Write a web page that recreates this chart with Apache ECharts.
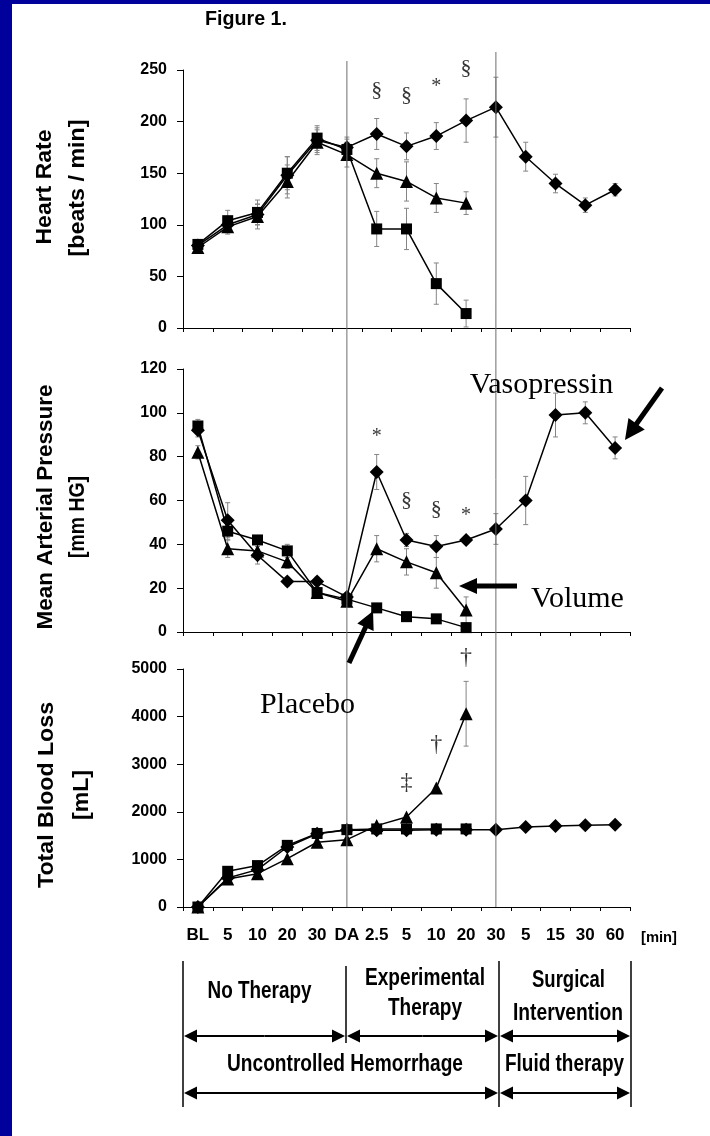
<!DOCTYPE html>
<html>
<head>
<meta charset="utf-8">
<title>Figure 1</title>
<script src="https://cdn.jsdelivr.net/npm/echarts@6.0.0/dist/echarts.min.js"></script>
<style>
  html, body { margin: 0; padding: 0; background: #fff; }
  #chart { width: 710px; height: 1136px; }
</style>
</head>
<body>
<div id="chart"></div>
<script>
// time points, shared by the three panels
const categories = ['BL', '5', '10', '20', '30', 'DA', '2.5', '5', '10', '20', '30', '5', '15', '30', '60'];

// heart rate [beats / min]
const hrVasopressin = [80, 100, 110, 148, 182, 175, 188, 176, 186, 201, 214, 166, 140, 119, 134];
const hrVasopressinSd = [4, 7, 10, 18, 12, 10, 15, 13, 13, 21, 29, 14, 9, 7, 6];
const hrVolume = [78, 98, 108, 142, 180, 168, 150, 142, 126, 121];
const hrVolumeSd = [4, 7, 12, 16, 12, 12, 14, 19, 14, 11];
const hrPlacebo = [81, 104, 112, 150, 184, 173, 96, 96, 43, 14];
const hrPlaceboSd = [4, 10, 12, 16, 12, 10, 17, 20, 20, 13];

// mean arterial pressure [mm HG]
const mapVasopressin = [92, 51, 35, 23, 23, 16, 73, 42, 39, 42, 47, 60, 99, 100, 84];
const mapVasopressinSd = [3, 8, 4, 2, 2, 2, 8, 3, 5, 1, 7, 11, 10, 5, 5];
const mapVolume = [82, 38, 37, 32, 18, 14, 38, 32, 27, 10];
const mapVolumeSd = [3, 4, 3, 3, 2, 2, 6, 6, 7, 6];
const mapPlacebo = [94, 46, 42, 37, 18, 15, 11, 7, 6, 2];
const mapPlaceboSd = [3, 4, 2, 3, 2, 2, 2, 2, 2, 1];

// total blood loss [mL]
const blVasopressin = [0, 610, 785, 1260, 1540, 1620, 1610, 1610, 1625, 1625, 1625, 1680, 1700, 1720, 1730];
const blVolume = [0, 590, 700, 1015, 1360, 1415, 1710, 1890, 2500, 4060];
const blVolumeSd = [null, null, null, null, null, null, null, null, null, 680];
const blPlacebo = [0, 750, 870, 1295, 1545, 1625, 1640, 1640, 1640, 1640];

// significance marks: [category index, value, symbol]
const hrMarks = [[6, 230, '§'], [7, 226, '§'], [8, 234, '*'], [9, 252, '§']];
const mapMarks = [[6, 89, '*'], [7, 60, '§'], [8, 56, '§'], [9, 53, '*']];
const blMarks = [[7, 2610, '‡'], [8, 3410, '†'], [9, 5240, '†']];

// y axis ticks
const hrTicks = { min: 0, max: 250, interval: 50 };
const mapTicks = { min: 0, max: 120, interval: 20 };
const blTicks = { min: 0, max: 5000, interval: 1000 };

const SANS = 'Liberation Sans';
const SERIF = 'Liberation Serif';

const chart = echarts.init(document.getElementById('chart'), null, { renderer: 'canvas' });

const plotLeft = 183;
const plotWidth = 447;
const panels = [
  { top: 70, height: 258, ticks: hrTicks, labels: false },
  { top: 369, height: 263, ticks: mapTicks, labels: false },
  { top: 669, height: 238, ticks: blTicks, labels: true }
];

const errorBars = (values, sds) => {
  const out = [];
  values.forEach((v, i) => {
    if (v == null || sds[i] == null) return;
    out.push([i, v - sds[i], v + sds[i]]);
  });
  return out;
};

const renderErrorBar = (params, api) => {
  const x = api.value(0);
  const hi = api.coord([x, api.value(2)]);
  const lo = api.coord([x, api.value(1)]);
  const cap = 2.5;
  const st = { stroke: '#858585', lineWidth: 1 };
  return {
    type: 'group',
    children: [
      { type: 'line', shape: { x1: hi[0], y1: hi[1], x2: lo[0], y2: lo[1] }, style: st },
      { type: 'line', shape: { x1: hi[0] - cap, y1: hi[1], x2: hi[0] + cap, y2: hi[1] }, style: st },
      { type: 'line', shape: { x1: lo[0] - cap, y1: lo[1], x2: lo[0] + cap, y2: lo[1] }, style: st }
    ]
  };
};

const lineSeries = (idx, name, data, symbol, size) => ({
  name,
  type: 'line',
  xAxisIndex: idx,
  yAxisIndex: idx,
  data,
  symbol,
  symbolSize: size,
  showAllSymbol: true,
  lineStyle: { color: '#000', width: 1.5 },
  itemStyle: { color: '#000' },
  z: 3,
  silent: true
});

const markSize = { '§': 22, '*': 20, '†': 24, '‡': 24 };
const markSeries = (idx, marks) => ({
  type: 'scatter',
  xAxisIndex: idx,
  yAxisIndex: idx,
  symbolSize: 1,
  clip: false,
  silent: true,
  itemStyle: { color: 'rgba(0,0,0,0)' },
  label: {
    show: true,
    position: 'inside',
    formatter: p => p.data.value[2],
    fontFamily: SERIF,
    color: '#000'
  },
  data: marks.map(m => ({ value: m, label: { fontSize: markSize[m[2]] } })),
  z: 4
});

const errorSeries = (idx, data) => ({
  type: 'custom',
  xAxisIndex: idx,
  yAxisIndex: idx,
  renderItem: renderErrorBar,
  encode: { x: 0, y: [1, 2] },
  data,
  silent: true,
  z: 2
});

const option = {
  animation: false,
  backgroundColor: '#fff',
  textStyle: { fontFamily: SANS },
  grid: panels.map(p => ({
    left: plotLeft, width: plotWidth, top: p.top, height: p.height,
    outerBoundsMode: 'none'
  })),
  xAxis: panels.map((p, i) => ({
    type: 'category',
    gridIndex: i,
    data: categories,
    boundaryGap: true,
    axisLine: { lineStyle: { color: '#000', width: 1 } },
    axisTick: { show: true, length: 4, lineStyle: { color: '#000' } },
    axisLabel: {
      show: p.labels, interval: 0, margin: 20,
      color: '#000', fontFamily: SANS, fontWeight: 'bold', fontSize: 17
    },
    splitLine: { show: false }
  })),
  yAxis: panels.map((p, i) => ({
    type: 'value',
    gridIndex: i,
    min: p.ticks.min,
    max: p.ticks.max,
    interval: p.ticks.interval,
    axisLine: { show: true, lineStyle: { color: '#000', width: 1 } },
    axisTick: { show: true, length: 6, lineStyle: { color: '#000' } },
    axisLabel: {
      margin: 16, color: '#000', fontFamily: SANS, fontWeight: 'bold', fontSize: 16,
      formatter: v => String(v)
    },
    splitLine: { show: false }
  })),
  series: [
    errorSeries(0, [].concat(errorBars(hrVasopressin, hrVasopressinSd), errorBars(hrVolume, hrVolumeSd), errorBars(hrPlacebo, hrPlaceboSd))),
    lineSeries(0, 'Vasopressin', hrVasopressin, 'diamond', 14),
    lineSeries(0, 'Volume', hrVolume, 'triangle', 13),
    lineSeries(0, 'Placebo', hrPlacebo, 'rect', 11),
    markSeries(0, hrMarks),

    errorSeries(1, [].concat(errorBars(mapVasopressin, mapVasopressinSd), errorBars(mapVolume, mapVolumeSd), errorBars(mapPlacebo, mapPlaceboSd))),
    lineSeries(1, 'Vasopressin', mapVasopressin, 'diamond', 14),
    lineSeries(1, 'Volume', mapVolume, 'triangle', 13),
    lineSeries(1, 'Placebo', mapPlacebo, 'rect', 11),
    markSeries(1, mapMarks),

    errorSeries(2, errorBars(blVolume, blVolumeSd)),
    lineSeries(2, 'Vasopressin', blVasopressin, 'diamond', 14),
    lineSeries(2, 'Volume', blVolume, 'triangle', 13),
    lineSeries(2, 'Placebo', blPlacebo, 'rect', 11),
    markSeries(2, blMarks)
  ]
};

chart.setOption(option);

// ---- annotations drawn around the plots ----
const measureCtx = document.createElement('canvas').getContext('2d');
const fitText = (str, cx, cy, size, weight, family, targetWidth, rotation) => {
  const font = `${weight} ${size}px "${family}"`;
  measureCtx.font = font;
  const natural = measureCtx.measureText(str).width || targetWidth;
  return {
    type: 'text', x: cx, y: cy, rotation: rotation || 0,
    scaleX: targetWidth / natural, silent: true, z: 10,
    style: { text: str, x: 0, y: 0, font, fill: '#000', align: 'center', verticalAlign: 'middle' }
  };
};

const arrow = (tail, tip, width, headLen, headHalf) => {
  const dx = tip[0] - tail[0];
  const dy = tip[1] - tail[1];
  const len = Math.hypot(dx, dy);
  const ux = dx / len, uy = dy / len;
  const bx = tip[0] - ux * headLen, by = tip[1] - uy * headLen;
  const px = -uy, py = ux;
  return [
    { type: 'line', silent: true, z: 10, shape: { x1: tail[0], y1: tail[1], x2: bx + ux, y2: by + uy }, style: { stroke: '#000', lineWidth: width } },
    { type: 'polygon', silent: true, z: 10, shape: { points: [tip, [bx + px * headHalf, by + py * headHalf], [bx - px * headHalf, by - py * headHalf]] }, style: { fill: '#000' } }
  ];
};

const doubleArrow = (x1, x2, y) => [
  ...arrow([(x1 + x2) / 2, y], [x1, y], 2, 13, 6.5),
  ...arrow([(x1 + x2) / 2, y], [x2, y], 2, 13, 6.5)
];

const vline = (x, y1, y2, color, width) => ({
  type: 'line', silent: true, z: 9,
  shape: { x1: x, y1, x2: x, y2 },
  style: { stroke: color, lineWidth: width }
});

const daX = chart.convertToPixel({ xAxisIndex: 0 }, 5);
const endX = chart.convertToPixel({ xAxisIndex: 0 }, 10);
const baseY = chart.convertToPixel({ yAxisIndex: 2 }, 0);

const graphics = [
  // blue frame
  { type: 'rect', silent: true, z: 0, shape: { x: 0, y: 0, width: 710, height: 4 }, style: { fill: '#00009a' } },
  { type: 'rect', silent: true, z: 0, shape: { x: 0, y: 0, width: 12, height: 1136 }, style: { fill: '#00009a' } },

  fitText('Figure 1.', 246, 19, 21, 'bold', SANS, 82),

  // phase separators through all three panels
  vline(daX, 61, baseY, '#6e6e6e', 1),
  vline(endX, 52, baseY, '#6e6e6e', 1),

  // y axis titles
  fitText('Heart Rate', 45, 187, 22, 'bold', SANS, 115, Math.PI / 2),
  fitText('[beats / min]', 78, 188, 22, 'bold', SANS, 137, Math.PI / 2),
  fitText('Mean Arterial Pressure', 45.5, 507, 22, 'bold', SANS, 245, Math.PI / 2),
  fitText('[mm HG]', 78, 517, 22, 'bold', SANS, 82, Math.PI / 2),
  fitText('Total Blood Loss', 47, 795, 22, 'bold', SANS, 186, Math.PI / 2),
  fitText('[mL]', 82, 795, 22, 'bold', SANS, 50, Math.PI / 2),

  fitText('[min]', 659, 938, 14, 'bold', SANS, 36),

  // group labels
  { type: 'text', x: 541.5, y: 385, silent: true, z: 10, style: { text: 'Vasopressin', x: 0, y: 0, font: `30px "${SERIF}"`, fill: '#000', align: 'center', verticalAlign: 'middle' } },
  { type: 'text', x: 577.5, y: 599, silent: true, z: 10, style: { text: 'Volume', x: 0, y: 0, font: `30px "${SERIF}"`, fill: '#000', align: 'center', verticalAlign: 'middle' } },
  { type: 'text', x: 307.5, y: 705, silent: true, z: 10, style: { text: 'Placebo', x: 0, y: 0, font: `30px "${SERIF}"`, fill: '#000', align: 'center', verticalAlign: 'middle' } },
  ...arrow([662, 388], [625, 440], 5, 20, 10),
  ...arrow([517, 586], [459, 586], 5, 18, 8),
  ...arrow([349, 663], [373, 611], 5, 18, 9),

  // phase timeline below the axis
  vline(183, 961, 1107, '#000', 1.5),
  vline(346, 966, 1043, '#000', 1.5),
  vline(499, 961, 1107, '#000', 1.5),
  vline(631, 961, 1107, '#000', 1.5),
  ...doubleArrow(184, 345, 1036),
  ...doubleArrow(347, 498, 1036),
  ...doubleArrow(500, 630, 1036),
  ...doubleArrow(184, 498, 1093),
  ...doubleArrow(500, 630, 1093),
  fitText('No Therapy', 259.5, 991.5, 23, 'bold', SANS, 104),
  fitText('Experimental', 425, 979, 23, 'bold', SANS, 120),
  fitText('Therapy', 425, 1008.5, 23, 'bold', SANS, 74),
  fitText('Surgical', 568.5, 981, 23, 'bold', SANS, 73),
  fitText('Intervention', 568, 1014, 23, 'bold', SANS, 110),
  fitText('Uncontrolled Hemorrhage', 345, 1065, 23, 'bold', SANS, 236),
  fitText('Fluid therapy', 564.5, 1065, 23, 'bold', SANS, 119)
];

chart.setOption({ graphic: graphics });
</script>
</body>
</html>
